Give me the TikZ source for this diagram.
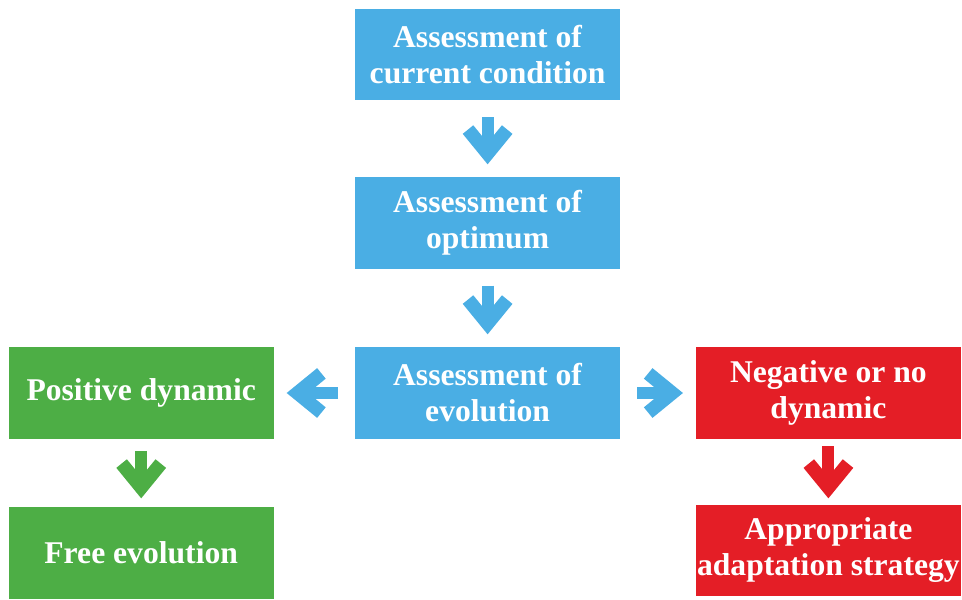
\documentclass[tikz,border=0pt]{standalone}
\usepackage{fontspec}
\setmainfont{Liberation Serif}
\usepackage{tikz}
\usetikzlibrary{arrows.meta}

\definecolor{boxblue}{RGB}{74,174,228}
\definecolor{boxgreen}{RGB}{77,174,69}
\definecolor{boxred}{RGB}{228,30,38}

\begin{document}
\begin{tikzpicture}[auto,scale=1.0]
	\tikzstyle{box}=[rectangle,minimum width=6.62cm,minimum height=2.28cm,inner sep=0pt,align=center,text=white,font=\bfseries\fontsize{22.5}{25.6}\selectfont]
	\tikzstyle{bluebox}=[box,fill=boxblue]
	\tikzstyle{greenbox}=[box,fill=boxgreen]
	\tikzstyle{redbox}=[box,fill=boxred]
	\tikzstyle{flow}=[line width=0.3cm,-{Straight Barb[length=0.6cm,width=0.98cm,line width=0.34cm,line join=miter,line cap=butt]},shorten <=0.42cm,shorten >=0.32cm]
	\useasboundingbox (0,0) rectangle (24.05,14.975);
	\node (mid1)   at (12.19,13.61) [bluebox]  {Assessment of\\current condition};
	\node (mid2)   at (12.19,9.40)  [bluebox]  {Assessment of\\optimum};
	\node (mid3)   at (12.19,5.15)  [bluebox]  {Assessment of\\evolution};
	\node (left1)  at (3.53,5.15)   [greenbox] {Positive dynamic};
	\node (left2)  at (3.53,1.15)   [greenbox] {Free evolution};
	\node (right1) at (20.71,5.15)  [redbox]   {Negative or no\\dynamic};
	\node (right2) at (20.71,1.22)  [redbox]   {Appropriate\\adaptation strategy};
	\draw [flow,boxblue]  (mid1)   -- (mid2);
	\draw [flow,boxblue]  (mid2)   -- (mid3);
	\draw [flow,boxblue]  (mid3)   -- (left1);
	\draw [flow,boxblue]  (mid3)   -- (right1);
	\draw [flow,boxgreen,shorten <=0.3cm,shorten >=0.22cm] (left1)  -- (left2);
	\draw [flow,boxred,shorten <=0.18cm,shorten >=0.15cm]   (right1) -- (right2);
\end{tikzpicture}
\end{document}
